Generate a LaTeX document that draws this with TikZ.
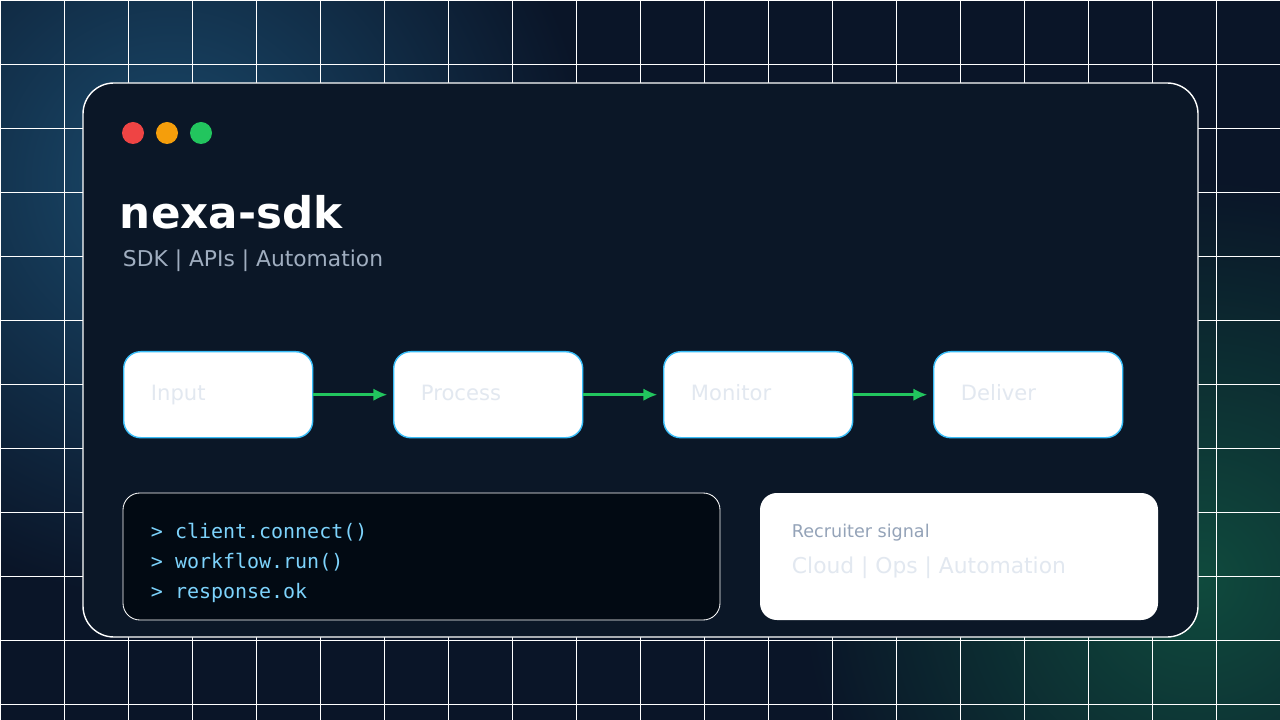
\documentclass[tikz,border=0pt]{standalone}
\usepackage{fontspec}
\setmainfont{DejaVu Sans}
\newfontfamily\monofont{DejaVu Sans Mono}
\usetikzlibrary{positioning}
\usetikzlibrary{arrows.meta}
\definecolor{bgnavy}{HTML}{0A1528}
\definecolor{glowblue}{HTML}{1A4A6C}
\definecolor{glowgreen}{HTML}{0F4A3D}
\definecolor{cardbg}{HTML}{0B1727}
\definecolor{stepedge}{HTML}{38BDF8}
\definecolor{steptext}{HTML}{E2E8F0}
\definecolor{subgray}{HTML}{A0AEC0}
\definecolor{termbg}{HTML}{020A13}
\definecolor{termtext}{HTML}{7DD3FC}
\definecolor{flow}{HTML}{22C55E}
\definecolor{dotred}{HTML}{EF4444}
\definecolor{dotamber}{HTML}{F59E0B}
\definecolor{dotgreen}{HTML}{22C55E}
\definecolor{signalgray}{HTML}{94A3B8}

\begin{document}
\begin{tikzpicture}[%
  x=0.025cm, y=-0.025cm,
  stage/.style={draw=stepedge, line width=1pt, fill=white, rounded corners=12pt,
    minimum width=189*0.025cm, minimum height=86*0.025cm, anchor=north west},
  stagelabel/.style={text=steptext, font=\fontsize{15}{18}\selectfont, anchor=base west},
  link/.style={draw=flow, line width=2pt, -{Latex[length=10pt,width=9pt]}, shorten >=4pt},
  cmd/.style={text=termtext, font=\monofont\fontsize{14.2}{17}\selectfont, anchor=base west},
]

  % background and glows
  \useasboundingbox (0,0) rectangle (1280,720);
  \begin{scope}
    \clip (0,0) rectangle (1280,720);
    \fill[bgnavy] (0,0) rectangle (1280,720);
    \shade[inner color=glowblue, outer color=bgnavy] (170,180) circle (420);
    \shade[inner color=glowgreen, outer color=bgnavy] (1200,580) circle (400);
    \foreach \gx in {0,64,...,1280} \draw[white, line width=0.6pt] (\gx,0) -- (\gx,720);
    \foreach \gy in {0,64,...,720} \draw[white, line width=0.6pt] (0,\gy) -- (1280,\gy);
  \end{scope}

  % window card
  \draw[white, fill=cardbg, line width=1pt, rounded corners=22pt] (83,83) rectangle (1198,637);
  \fill[dotred] (133,133) circle (11);
  \fill[dotamber] (167,133) circle (11);
  \fill[dotgreen] (201,133) circle (11);

  \node[anchor=base west, text=white, font=\bfseries\fontsize{31}{36}\selectfont] (title) at (115,229) {nexa-sdk};
  \node[anchor=base west, text=subgray, font=\fontsize{15.5}{18}\selectfont] (subtitle) at (118,267) {SDK | APIs | Automation};

  % pipeline
  \node[stage] (input) at (123,351) {};
  \node[stage] (process) at (393,351) {};
  \node[stage] (monitor) at (663,351) {};
  \node[stage] (deliver) at (933,351) {};
  \node[stagelabel] at (146,401) {Input};
  \node[stagelabel] at (416,401) {Process};
  \node[stagelabel] at (686,401) {Monitor};
  \node[stagelabel] at (956,401) {Deliver};
  \draw[link] (input) -- (process);
  \draw[link] (process) -- (monitor);
  \draw[link] (monitor) -- (deliver);

  % terminal
  \draw[white, fill=termbg, line width=0.6pt, rounded corners=12pt] (123,493) rectangle (720,620);
  \node[cmd] at (146,538) {> client.connect()};
  \node[cmd] at (146,568) {> workflow.run()};
  \node[cmd] at (146,598) {> response.ok};

  % recruiter panel
  \fill[white, rounded corners=12pt] (760,493) rectangle (1158,620);
  \node[anchor=base west, text=signalgray, font=\fontsize{12.5}{15}\selectfont] at (787,537) {Recruiter signal};
  \node[anchor=base west, text=steptext, font=\fontsize{15.5}{18}\selectfont] at (787,573) {Cloud | Ops | Automation};

\end{tikzpicture}
\end{document}
